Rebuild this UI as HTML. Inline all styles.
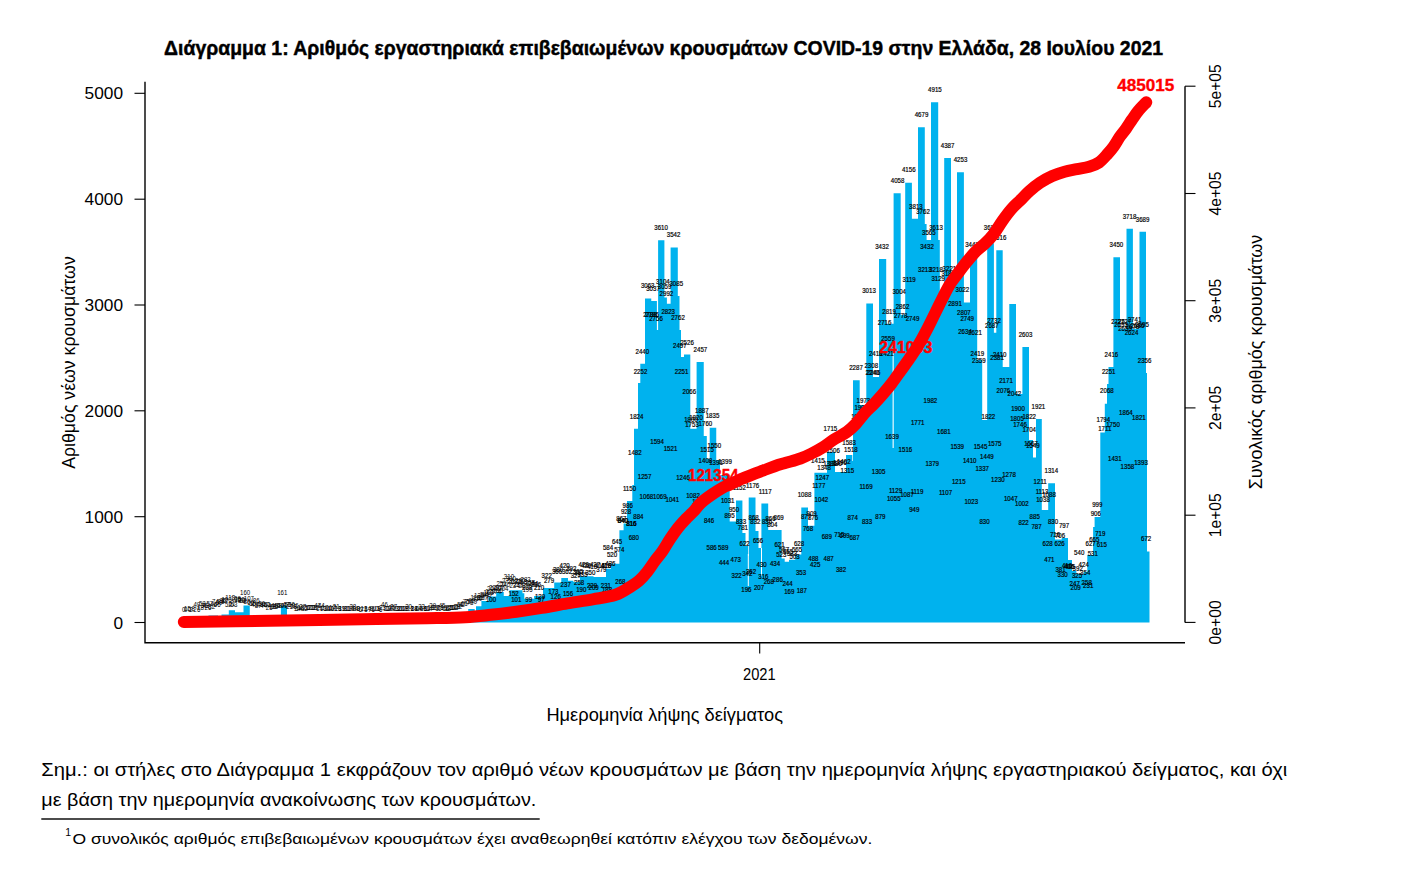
<!DOCTYPE html>
<html><head><meta charset="utf-8"><style>
html,body{margin:0;padding:0;background:#fff;width:1414px;height:896px;overflow:hidden}
svg{position:absolute;left:0;top:0}
</style></head><body>
<svg width="1414" height="896" viewBox="0 0 1414 896" font-family='"Liberation Sans", sans-serif'>
<rect width="1414" height="896" fill="#fff"/>
<text x="164.1" y="55.3" font-size="20.1" font-weight="bold" stroke="#000" stroke-width="0.45" textLength="999" lengthAdjust="spacingAndGlyphs">Διάγραμμα 1: Αριθμός εργαστηριακά επιβεβαιωμένων κρουσμάτων COVID-19 στην Ελλάδα, 28 Ιουλίου 2021</text>
<path d="M180.00,622.50 L208.50,622.50 L208.50,615.60 L218.00,615.60 L218.00,622.50 L221.50,622.50 L221.50,614.50 L228.80,614.50 L228.80,610.30 L235.00,610.30 L235.00,612.20 L243.50,612.20 L243.50,605.50 L249.75,605.50 L249.75,622.50 L280.90,622.50 L280.90,605.50 L287.00,605.50 L287.00,622.50 L468.20,622.50 L468.20,609.00 L474.70,609.00 L474.70,611.00 L476.00,611.00 L476.00,606.25 L481.40,606.25 L481.40,600.90 L488.60,600.90 L488.60,596.40 L496.20,596.40 L496.20,592.00 L503.75,592.00 L503.75,596.00 L509.50,596.00 L509.50,590.20 L522.50,590.20 L522.50,593.30 L524.30,593.30 L524.30,598.70 L534.10,598.70 L534.10,596.00 L543.00,596.00 L543.00,588.00 L554.20,588.00 L554.20,582.60 L561.30,582.60 L561.30,578.10 L568.00,578.10 L568.00,580.80 L573.40,580.80 L573.40,582.00 L580.00,582.00 L580.00,576.30 L593.50,576.30 L593.50,577.00 L606.00,577.00 L606.00,568.80 L611.00,568.80 L611.00,563.80 L619.40,563.80 L619.40,530.20 L623.60,530.20 L623.60,523.50 L627.00,523.50 L627.00,501.00 L632.30,501.00 L632.30,485.00 L634.00,485.00 L634.00,428.75 L638.00,428.75 L638.00,383.00 L640.30,383.00 L640.30,363.75 L645.00,363.75 L645.00,298.40 L651.25,298.40 L651.25,301.00 L656.90,301.00 L656.90,330.00 L658.10,330.00 L658.10,240.30 L664.40,240.30 L664.40,297.50 L666.90,297.50 L666.90,303.75 L670.60,303.75 L670.60,247.50 L677.80,247.50 L677.80,296.00 L679.50,296.00 L679.50,330.00 L681.00,330.00 L681.00,357.00 L684.00,357.00 L684.00,354.40 L690.30,354.40 L690.30,428.75 L696.60,428.75 L696.60,362.00 L703.75,362.00 L703.75,436.00 L706.80,436.00 L706.80,459.00 L709.70,459.00 L709.70,427.80 L716.25,427.80 L716.25,460.00 L720.00,460.00 L720.00,475.00 L729.70,475.00 L729.70,521.60 L736.00,521.60 L736.00,500.40 L742.40,500.40 L742.40,533.00 L745.50,533.00 L745.50,546.00 L748.00,546.00 L748.00,556.00 L748.70,556.00 L748.70,497.60 L755.50,497.60 L755.50,531.00 L758.50,531.00 L758.50,548.00 L761.40,548.00 L761.40,503.60 L768.20,503.60 L768.20,530.00 L781.60,530.00 L781.60,558.60 L784.70,558.60 L784.70,561.80 L789.00,561.80 L789.00,559.70 L795.30,559.70 L795.30,554.40 L801.30,554.40 L801.30,507.40 L808.00,507.40 L808.00,525.80 L814.40,525.80 L814.40,472.80 L827.00,472.80 L827.00,452.00 L835.00,452.00 L835.00,472.00 L846.00,472.00 L846.00,455.00 L852.30,455.00 L852.30,461.00 L853.00,461.00 L853.00,380.30 L859.70,380.30 L859.70,405.00 L866.30,405.00 L866.30,303.60 L873.00,303.60 L873.00,377.00 L879.00,377.00 L879.00,259.00 L886.20,259.00 L886.20,323.70 L893.60,323.70 L893.60,193.20 L900.70,193.20 L900.70,314.70 L905.20,314.70 L905.20,182.70 L911.90,182.70 L911.90,218.80 L918.00,218.80 L918.00,127.30 L924.80,127.30 L924.80,224.00 L926.60,224.00 L926.60,240.00 L931.00,240.00 L931.00,102.30 L938.20,102.30 L938.20,240.00 L939.80,240.00 L939.80,295.00 L944.20,295.00 L944.20,158.10 L951.00,158.10 L951.00,280.00 L957.00,280.00 L957.00,172.20 L963.90,172.20 L963.90,302.50 L970.00,302.50 L970.00,255.00 L977.20,255.00 L977.20,360.00 L982.20,360.00 L982.20,420.00 L987.20,420.00 L987.20,243.20 L993.90,243.20 L993.90,332.70 L996.30,332.70 L996.30,250.30 L1002.70,250.30 L1002.70,367.00 L1009.30,367.00 L1009.30,304.00 L1016.00,304.00 L1016.00,394.00 L1022.40,394.00 L1022.40,347.00 L1029.00,347.00 L1029.00,440.00 L1033.00,440.00 L1033.00,457.60 L1036.00,457.60 L1036.00,419.00 L1041.80,419.00 L1041.80,510.00 L1048.20,510.00 L1048.20,483.30 L1055.00,483.30 L1055.00,539.40 L1061.70,539.40 L1061.70,538.00 L1068.00,538.00 L1068.00,560.00 L1072.00,560.00 L1072.00,571.00 L1076.40,571.00 L1076.40,574.00 L1083.70,574.00 L1083.70,572.00 L1087.30,572.00 L1087.30,555.00 L1093.10,555.00 L1093.10,527.00 L1094.60,527.00 L1094.60,517.00 L1100.30,517.00 L1100.30,432.40 L1104.80,432.40 L1104.80,403.70 L1107.00,403.70 L1107.00,384.00 L1108.50,384.00 L1108.50,367.00 L1113.40,367.00 L1113.40,257.30 L1120.00,257.30 L1120.00,328.70 L1126.50,328.70 L1126.50,228.80 L1132.90,228.80 L1132.90,328.70 L1139.50,328.70 L1139.50,231.80 L1146.00,231.80 L1146.00,373.00 L1147.00,373.00 L1147.00,551.40 L1149.50,551.40 L1149.50,622.50 Z" fill="#00B2EE"/>
<rect x="892.6" y="348" width="1.1" height="100" fill="#fff"/><rect x="747.8" y="554" width="1" height="32" fill="#fff"/><rect x="761" y="548" width="1" height="28" fill="#fff"/>
<g font-size="7" fill="#000" stroke="#000" stroke-width="0.2" text-anchor="middle" transform="scale(0.875,1)"><text x="755.54" y="230.22">3610</text><text x="769.83" y="237.41">3542</text><text x="740.23" y="288.11">3063</text><text x="746.29" y="290.86">3037</text><text x="757.60" y="283.77">3104</text><text x="759.54" y="288.54">3059</text><text x="772.86" y="285.78">3085</text><text x="761.60" y="295.63">2992</text><text x="742.86" y="317.22">2788</text><text x="745.14" y="317.43">2786</text><text x="749.71" y="320.60">2756</text><text x="763.66" y="313.51">2823</text><text x="774.86" y="319.97">2762</text><text x="785.14" y="344.95">2526</text><text x="776.91" y="348.02">2497</text><text x="800.46" y="352.25">2457</text><text x="734.06" y="354.05">2440</text><text x="732.00" y="373.95">2252</text><text x="778.97" y="374.05">2251</text><text x="787.77" y="393.63">2066</text><text x="802.06" y="412.58">1887</text><text x="814.29" y="418.08">1835</text><text x="789.71" y="421.79">1800</text><text x="795.43" y="419.67">1820</text><text x="790.86" y="426.76">1753</text><text x="806.17" y="426.02">1760</text><text x="727.54" y="419.25">1824</text><text x="750.97" y="443.59">1594</text><text x="766.29" y="451.32">1521</text><text x="725.49" y="455.45">1482</text><text x="808.00" y="451.95">1515</text><text x="816.34" y="448.25">1550</text><text x="806.17" y="463.28">1408</text><text x="818.29" y="465.08">1391</text><text x="828.57" y="464.23">1399</text><text x="736.69" y="479.26">1257</text><text x="780.57" y="480.42">1246</text><text x="719.43" y="490.58">1150</text><text x="738.74" y="499.26">1068</text><text x="754.06" y="499.16">1069</text><text x="768.34" y="502.12">1041</text><text x="792.00" y="497.78">1082</text><text x="798.86" y="504.34">1020</text><text x="717.37" y="507.94">986</text><text x="715.43" y="514.08">928</text><text x="729.60" y="518.74">884</text><text x="710.17" y="520.54">867</text><text x="712.23" y="523.39">840</text><text x="721.43" y="525.93">816</text><text x="810.29" y="522.76">846</text><text x="844.91" y="490.37">1152</text><text x="860.23" y="487.83">1176</text><text x="874.51" y="494.08">1117</text><text x="831.66" y="503.18">1031</text><text x="838.86" y="511.75">950</text><text x="833.71" y="517.57">895</text><text x="846.86" y="524.14">833</text><text x="849.03" y="529.64">781</text><text x="861.26" y="520.43">868</text><text x="863.31" y="524.24">832</text><text x="880.57" y="520.64">866</text><text x="889.83" y="520.33">869</text><text x="876.57" y="523.82">836</text><text x="882.63" y="527.20">804</text><text x="850.97" y="546.47">622</text><text x="866.29" y="542.87">656</text><text x="813.26" y="550.28">586</text><text x="826.51" y="549.96">589</text><text x="827.43" y="565.31">444</text><text x="840.80" y="562.24">473</text><text x="841.83" y="578.22">322</text><text x="854.06" y="576.10">342</text><text x="858.29" y="573.99">362</text><text x="853.03" y="591.56">196</text><text x="867.43" y="590.39">207</text><text x="870.40" y="566.79">430</text><text x="885.71" y="566.37">434</text><text x="872.46" y="578.85">316</text><text x="888.80" y="582.03">286</text><text x="878.57" y="583.93">268</text><text x="900.00" y="586.48">244</text><text x="902.06" y="594.41">169</text><text x="916.34" y="592.51">187</text><text x="915.43" y="574.94">353</text><text x="890.86" y="546.57">621</text><text x="896.00" y="552.29">567</text><text x="900.57" y="553.56">555</text><text x="905.14" y="555.89">533</text><text x="910.86" y="552.50">565</text><text x="892.86" y="556.95">523</text><text x="908.11" y="559.06">503</text><text x="913.14" y="545.83">628</text><text x="919.43" y="497.15">1088</text><text x="927.54" y="516.09">909</text><text x="921.14" y="519.48">877</text><text x="929.14" y="519.58">876</text><text x="923.43" y="531.01">768</text><text x="929.60" y="560.65">488</text><text x="931.66" y="567.32">425</text><text x="949.03" y="430.78">1715</text><text x="980.57" y="419.46">1822</text><text x="1019.43" y="438.83">1639</text><text x="1034.74" y="451.85">1516</text><text x="970.40" y="444.76">1583</text><text x="972.46" y="451.63">1518</text><text x="952.00" y="452.90">1506</text><text x="934.74" y="462.54">1415</text><text x="964.29" y="463.91">1402</text><text x="941.83" y="469.63">1348</text><text x="948.57" y="465.61">1386</text><text x="954.29" y="466.24">1380</text><text x="960.00" y="464.55">1396</text><text x="968.34" y="473.12">1315</text><text x="1004.11" y="474.18">1305</text><text x="939.77" y="480.32">1247</text><text x="935.71" y="487.73">1177</text><text x="989.71" y="488.57">1169</text><text x="938.74" y="502.01">1042</text><text x="1023.43" y="492.81">1129</text><text x="1021.43" y="500.64">1055</text><text x="1036.57" y="497.25">1087</text><text x="1048.00" y="493.87">1119</text><text x="1044.91" y="511.86">949</text><text x="974.51" y="519.80">874</text><text x="990.86" y="524.14">833</text><text x="1006.17" y="519.27">879</text><text x="944.91" y="539.38">689</text><text x="959.20" y="536.62">715</text><text x="965.26" y="538.32">699</text><text x="976.57" y="539.59">687</text><text x="946.97" y="560.76">487</text><text x="961.14" y="571.87">382</text><text x="1068.46" y="92.10">4915</text><text x="1053.14" y="117.07">4679</text><text x="1082.97" y="147.98">4387</text><text x="1097.71" y="162.16">4253</text><text x="1038.57" y="172.43">4156</text><text x="1025.83" y="182.80">4058</text><text x="1046.74" y="208.73">3813</text><text x="1054.86" y="214.13">3762</text><text x="1069.71" y="229.90">3613</text><text x="1061.49" y="234.98">3565</text><text x="1008.00" y="249.06">3432</text><text x="1059.43" y="249.06">3432</text><text x="1056.91" y="272.24">3213</text><text x="1069.71" y="271.71">3218</text><text x="1085.03" y="271.39">3221</text><text x="1083.77" y="275.73">3180</text><text x="1039.09" y="282.19">3119</text><text x="1072.23" y="281.13">3129</text><text x="1110.86" y="247.47">3447</text><text x="993.14" y="293.40">3013</text><text x="1027.66" y="294.36">3004</text><text x="1031.43" y="309.39">2862</text><text x="1016.11" y="313.94">2819</text><text x="1029.37" y="318.28">2778</text><text x="1042.86" y="321.35">2749</text><text x="1010.97" y="324.84">2716</text><text x="1014.86" y="341.46">2559</text><text x="1000.80" y="356.38">2418</text><text x="1013.60" y="356.06">2421</text><text x="978.29" y="370.24">2287</text><text x="995.71" y="368.02">2308</text><text x="998.29" y="374.58">2246</text><text x="997.03" y="375.22">2240</text><text x="1099.77" y="292.45">3022</text><text x="1091.43" y="306.32">2891</text><text x="1101.60" y="315.21">2807</text><text x="1105.37" y="321.35">2749</text><text x="1102.86" y="333.52">2634</text><text x="1114.29" y="334.89">2621</text><text x="1116.91" y="356.27">2419</text><text x="1118.63" y="362.62">2359</text><text x="1063.31" y="402.53">1982</text><text x="986.74" y="403.48">1973</text><text x="984.23" y="410.46">1907</text><text x="1048.80" y="424.86">1771</text><text x="1078.63" y="434.38">1681</text><text x="1093.94" y="449.41">1539</text><text x="1120.57" y="448.78">1545</text><text x="1136.80" y="445.60">1575</text><text x="1129.60" y="419.46">1822</text><text x="1136.00" y="323.15">2732</text><text x="1133.49" y="327.91">2687</text><text x="1132.11" y="229.58">3616</text><text x="1142.29" y="240.17">3516</text><text x="1065.37" y="466.35">1379</text><text x="1108.23" y="463.07">1410</text><text x="1127.89" y="458.94">1449</text><text x="1122.51" y="470.79">1337</text><text x="1095.71" y="483.70">1215</text><text x="1080.57" y="495.14">1107</text><text x="1110.00" y="504.03">1023</text><text x="1125.14" y="524.45">830</text><text x="1172.00" y="336.80">2603</text><text x="1142.51" y="357.23">2410</text><text x="1139.54" y="360.29">2381</text><text x="1149.71" y="382.52">2171</text><text x="1146.74" y="392.58">2076</text><text x="1159.31" y="396.17">2042</text><text x="1186.74" y="408.98">1921</text><text x="1163.43" y="411.20">1900</text><text x="1162.29" y="421.26">1805</text><text x="1176.23" y="419.46">1822</text><text x="1165.71" y="427.50">1746</text><text x="1176.23" y="431.95">1704</text><text x="1178.29" y="446.45">1567</text><text x="1180.46" y="448.35">1549</text><text x="1153.14" y="477.04">1278</text><text x="1140.46" y="482.12">1230</text><text x="1201.49" y="473.23">1314</text><text x="1188.80" y="484.13">1211</text><text x="1190.86" y="494.50">1113</text><text x="1192.00" y="502.44">1038</text><text x="1198.86" y="497.15">1088</text><text x="1155.14" y="501.49">1047</text><text x="1167.77" y="506.25">1002</text><text x="1182.51" y="518.63">885</text><text x="1169.83" y="525.30">822</text><text x="1184.57" y="529.00">787</text><text x="1203.43" y="524.45">830</text><text x="1205.71" y="536.52">716</text><text x="1211.43" y="537.58">706</text><text x="1197.26" y="545.83">628</text><text x="1210.97" y="546.04">626</text><text x="1199.31" y="562.45">471</text><text x="1216.00" y="527.95">797</text><text x="1267.09" y="374.05">2251</text><text x="1265.03" y="393.42">2068</text><text x="1286.74" y="415.01">1864</text><text x="1301.60" y="419.57">1821</text><text x="1260.91" y="422.42">1794</text><text x="1272.00" y="427.08">1750</text><text x="1262.63" y="431.21">1711</text><text x="1274.06" y="460.84">1431</text><text x="1288.46" y="468.57">1358</text><text x="1304.00" y="464.86">1393</text><text x="1254.06" y="506.57">999</text><text x="1252.34" y="516.41">906</text><text x="1257.49" y="536.20">719</text><text x="1250.63" y="541.92">665</text><text x="1246.40" y="545.94">627</text><text x="1259.20" y="547.21">615</text><text x="1233.37" y="555.15">540</text><text x="1248.91" y="556.10">531</text><text x="1219.43" y="568.27">416</text><text x="1221.71" y="569.33">406</text><text x="1212.00" y="571.97">381</text><text x="1214.40" y="577.37">330</text><text x="1222.97" y="569.43">405</text><text x="1231.66" y="570.81">392</text><text x="1238.51" y="567.42">424</text><text x="1240.23" y="574.83">354</text><text x="1230.86" y="577.90">325</text><text x="1228.23" y="586.16">247</text><text x="1229.26" y="590.18">209</text><text x="1241.94" y="584.99">258</text><text x="1243.66" y="587.85">231</text><text x="1309.83" y="541.18">672</text><text x="1270.17" y="356.59">2416</text><text x="1275.89" y="247.15">3450</text><text x="1290.86" y="218.79">3718</text><text x="1305.83" y="221.86">3689</text><text x="1285.14" y="323.67">2727</text><text x="1296.57" y="322.19">2741</text><text x="1277.71" y="323.89">2725</text><text x="1281.14" y="327.27">2693</text><text x="1285.71" y="331.29">2655</text><text x="1294.29" y="328.86">2678</text><text x="1300.00" y="328.01">2686</text><text x="1305.14" y="327.06">2695</text><text x="1293.14" y="334.58">2624</text><text x="1308.11" y="362.94">2356</text><text x="721.83" y="525.93">816</text><text x="711.54" y="523.39">840</text><text x="724.34" y="540.33">680</text><text x="705.14" y="544.03">645</text><text x="694.86" y="550.49">584</text><text x="699.43" y="557.26">520</text><text x="707.77" y="551.55">574</text><text x="697.60" y="566.15">436</text><text x="692.57" y="568.06">418</text><text x="666.97" y="567.00">428</text><text x="669.71" y="567.85">420</text><text x="676.57" y="568.91">410</text><text x="680.00" y="567.11">427</text><text x="685.71" y="568.38">415</text><text x="692.57" y="568.27">416</text><text x="687.31" y="572.19">379</text><text x="674.63" y="575.26">350</text><text x="665.71" y="576.84">335</text><text x="645.26" y="567.85">420</text><text x="652.91" y="570.81">392</text><text x="660.57" y="573.67">365</text><text x="624.80" y="578.22">322</text><text x="561.14" y="601.72">100</text><text x="586.97" y="596.21">152</text><text x="590.06" y="601.61">101</text><text x="604.29" y="601.82">99</text><text x="637.71" y="572.08">380</text><text x="636.57" y="573.56">366</text><text x="648.00" y="573.99">362</text><text x="661.83" y="574.52">357</text><text x="658.06" y="577.69">327</text><text x="627.43" y="582.77">279</text><text x="661.83" y="584.99">258</text><text x="646.51" y="587.22">237</text><text x="692.46" y="587.85">231</text><text x="676.57" y="588.06">229</text><text x="678.40" y="590.18">209</text><text x="664.34" y="592.19">190</text><text x="693.71" y="592.40">188</text><text x="632.46" y="593.99">173</text><text x="649.14" y="595.79">156</text><text x="635.09" y="598.96">126</text><text x="617.14" y="598.65">129</text><text x="618.51" y="602.03">97</text><text x="709.03" y="583.93">268</text><text x="605.71" y="585.31">255</text><text x="609.14" y="586.48">244</text><text x="612.57" y="587.32">236</text><text x="616.00" y="590.07">210</text><text x="602.29" y="590.29">208</text></g>
<g font-size="7" fill="#000" text-anchor="middle" transform="scale(0.875,1)"><text x="210.06" y="612.30">0</text><text x="212.18" y="612.30">0</text><text x="214.30" y="610.71">15</text><text x="216.43" y="612.30">0</text><text x="218.55" y="612.09">2</text><text x="220.67" y="611.45">8</text><text x="222.80" y="612.09">2</text><text x="224.92" y="607.11">49</text><text x="227.04" y="611.66">6</text><text x="229.17" y="610.39">18</text><text x="231.29" y="606.16">58</text><text x="233.41" y="608.49">36</text><text x="235.54" y="607.75">43</text><text x="237.66" y="609.55">26</text><text x="239.79" y="606.27">57</text><text x="241.91" y="608.91">32</text><text x="244.03" y="607.43">46</text><text x="246.16" y="604.47">74</text><text x="248.28" y="607.43">46</text><text x="250.40" y="605.00">69</text><text x="252.53" y="603.73">81</text><text x="254.65" y="603.20">86</text><text x="256.77" y="603.09">87</text><text x="258.90" y="601.72">100</text><text x="261.02" y="606.80">52</text><text x="263.14" y="600.34">113</text><text x="265.27" y="605.84">61</text><text x="267.39" y="606.69">53</text><text x="269.51" y="600.76">109</text><text x="271.64" y="602.25">95</text><text x="273.76" y="601.72">100</text><text x="275.88" y="602.88">89</text><text x="278.01" y="602.56">92</text><text x="280.13" y="595.37">160</text><text x="282.25" y="603.83">80</text><text x="284.38" y="600.98">107</text><text x="286.50" y="605.31">66</text><text x="288.62" y="606.48">55</text><text x="290.75" y="607.22">48</text><text x="292.87" y="603.20">86</text><text x="294.99" y="608.38">37</text><text x="297.12" y="607.22">48</text><text x="299.24" y="606.37">56</text><text x="301.36" y="607.64">44</text><text x="303.49" y="607.33">47</text><text x="305.61" y="606.90">51</text><text x="307.73" y="609.65">25</text><text x="309.86" y="607.64">44</text><text x="311.98" y="609.34">28</text><text x="314.11" y="608.60">35</text><text x="316.23" y="608.07">40</text><text x="318.35" y="608.28">38</text><text x="320.48" y="608.07">40</text><text x="322.60" y="595.26">161</text><text x="324.72" y="607.96">41</text><text x="326.85" y="607.33">47</text><text x="328.97" y="606.69">53</text><text x="331.09" y="609.44">27</text><text x="333.22" y="607.01">50</text><text x="335.34" y="609.34">28</text><text x="337.46" y="608.49">36</text><text x="339.59" y="610.82">14</text><text x="341.71" y="610.82">14</text><text x="343.83" y="610.39">18</text><text x="345.96" y="609.44">27</text><text x="348.08" y="611.03">12</text><text x="350.20" y="609.55">26</text><text x="352.33" y="610.50">17</text><text x="354.45" y="609.97">22</text><text x="356.57" y="609.87">23</text><text x="358.70" y="610.39">18</text><text x="360.82" y="609.97">22</text><text x="362.94" y="607.96">41</text><text x="365.07" y="610.82">14</text><text x="367.19" y="607.64">44</text><text x="369.31" y="610.92">13</text><text x="371.44" y="610.50">17</text><text x="373.56" y="610.82">14</text><text x="375.68" y="611.24">10</text><text x="377.81" y="611.24">10</text><text x="379.93" y="610.50">17</text><text x="382.05" y="611.03">12</text><text x="384.18" y="609.02">31</text><text x="386.30" y="610.92">13</text><text x="388.43" y="611.45">8</text><text x="390.55" y="611.14">11</text><text x="392.67" y="611.35">9</text><text x="394.80" y="611.45">8</text><text x="396.92" y="611.14">11</text><text x="399.04" y="611.03">12</text><text x="401.17" y="610.82">14</text><text x="403.29" y="609.34">28</text><text x="405.41" y="610.82">14</text><text x="407.54" y="611.24">10</text><text x="409.66" y="611.45">8</text><text x="411.78" y="611.66">6</text><text x="413.91" y="611.56">7</text><text x="416.03" y="611.03">12</text><text x="418.15" y="611.77">5</text><text x="420.28" y="610.82">14</text><text x="422.40" y="611.56">7</text><text x="424.52" y="611.45">8</text><text x="426.65" y="611.66">6</text><text x="428.77" y="611.24">10</text><text x="430.89" y="611.14">11</text><text x="433.02" y="611.45">8</text><text x="435.14" y="611.66">6</text><text x="437.26" y="609.87">23</text><text x="439.39" y="607.43">46</text><text x="441.51" y="611.03">12</text><text x="443.63" y="610.92">13</text><text x="445.76" y="611.24">10</text><text x="447.88" y="609.65">25</text><text x="450.00" y="609.44">27</text><text x="452.13" y="610.92">13</text><text x="454.25" y="611.03">12</text><text x="456.37" y="611.24">10</text><text x="458.50" y="611.24">10</text><text x="460.62" y="611.03">12</text><text x="462.75" y="611.14">11</text><text x="464.87" y="611.45">8</text><text x="466.99" y="609.12">30</text><text x="469.12" y="611.03">12</text><text x="471.24" y="611.45">8</text><text x="473.36" y="610.82">14</text><text x="475.49" y="611.45">8</text><text x="477.61" y="610.82">14</text><text x="479.73" y="610.82">14</text><text x="481.86" y="608.81">33</text><text x="483.98" y="610.61">16</text><text x="486.10" y="611.45">8</text><text x="488.23" y="611.14">11</text><text x="490.35" y="610.82">14</text><text x="492.47" y="610.39">18</text><text x="494.60" y="608.17">39</text><text x="496.72" y="610.29">19</text><text x="498.84" y="610.50">17</text><text x="500.97" y="611.14">11</text><text x="503.09" y="610.39">18</text><text x="505.21" y="607.54">45</text><text x="507.34" y="610.29">19</text><text x="509.46" y="610.61">16</text><text x="511.58" y="610.92">13</text><text x="513.71" y="609.65">25</text><text x="515.83" y="609.55">26</text><text x="517.95" y="610.08">21</text><text x="520.08" y="609.87">23</text><text x="522.20" y="609.23">29</text><text x="524.32" y="608.91">32</text><text x="526.45" y="606.90">51</text><text x="528.57" y="607.33">47</text><text x="530.69" y="605.84">61</text><text x="532.82" y="604.36">75</text><text x="534.94" y="603.94">79</text><text x="537.07" y="604.57">73</text><text x="539.19" y="602.56">92</text><text x="541.31" y="603.94">79</text><text x="543.44" y="600.02">116</text><text x="545.56" y="600.66">110</text><text x="547.68" y="598.01">135</text><text x="549.81" y="599.92">117</text><text x="551.93" y="599.92">117</text><text x="554.05" y="597.38">141</text><text x="556.18" y="596.53">149</text><text x="558.30" y="594.52">168</text><text x="560.42" y="593.57">177</text><text x="562.55" y="591.13">200</text><text x="564.67" y="590.18">209</text><text x="566.79" y="593.88">174</text><text x="568.92" y="592.72">185</text><text x="571.04" y="590.39">207</text><text x="573.16" y="585.73">251</text><text x="575.29" y="590.71">204</text><text x="577.41" y="586.90">240</text><text x="579.53" y="583.41">273</text><text x="581.66" y="579.49">310</text><text x="583.78" y="580.55">300</text><text x="585.90" y="583.83">269</text><text x="588.03" y="587.53">234</text><text x="590.15" y="583.51">272</text><text x="592.27" y="587.00">239</text><text x="594.40" y="582.66">280</text><text x="596.52" y="583.93">268</text><text x="598.64" y="588.27">227</text><text x="600.77" y="582.35">283</text><text x="602.89" y="591.66">195</text></g>
<text x="688" y="481" font-size="16.5" font-weight="bold" fill="#FF0000" stroke="#FF0000" stroke-width="0.4" textLength="50.5" lengthAdjust="spacingAndGlyphs">121354</text>
<text x="879.1" y="353" font-size="16.5" font-weight="bold" fill="#FF0000" stroke="#FF0000" stroke-width="0.4" textLength="53.4" lengthAdjust="spacingAndGlyphs">241093</text>
<path d="M183.80,622.00 C198.17,621.80 242.63,621.23 270.00,620.80 C297.37,620.37 321.83,619.83 348.00,619.40 C374.17,618.97 407.42,618.57 427.00,618.20 C446.58,617.83 454.85,617.77 465.50,617.20 C476.15,616.63 482.42,615.71 490.90,614.80 C499.38,613.89 507.92,612.90 516.40,611.75 C524.88,610.60 533.32,609.29 541.80,607.90 C550.28,606.51 558.81,604.83 567.30,603.40 C575.79,601.97 584.70,600.73 592.75,599.30 C600.80,597.87 609.18,596.97 615.60,594.80 C622.02,592.62 627.35,588.58 631.25,586.25 C635.15,583.92 636.39,583.14 639.00,580.80 C641.61,578.46 644.28,575.46 646.90,572.20 C649.52,568.94 652.10,564.77 654.70,561.25 C657.30,557.73 659.90,554.88 662.50,551.10 C665.10,547.33 667.70,542.50 670.30,538.60 C672.90,534.70 675.50,530.97 678.10,527.70 C680.70,524.43 683.29,521.74 685.90,519.00 C688.51,516.26 691.17,514.00 693.75,511.25 C696.33,508.50 698.31,505.32 701.40,502.50 C704.49,499.68 708.62,496.83 712.30,494.30 C715.98,491.77 720.55,488.93 723.50,487.30 C726.45,485.67 727.05,485.87 730.00,484.50 C732.95,483.13 737.48,480.75 741.20,479.10 C744.92,477.45 748.58,476.05 752.30,474.60 C756.02,473.15 759.77,471.80 763.50,470.40 C767.23,469.00 770.97,467.47 774.70,466.20 C778.43,464.93 781.62,464.08 785.90,462.80 C790.18,461.52 796.12,460.05 800.40,458.50 C804.68,456.95 807.87,455.37 811.60,453.50 C815.33,451.63 819.08,449.63 822.80,447.30 C826.52,444.97 829.90,442.05 833.90,439.50 C837.90,436.95 843.17,434.58 846.80,432.00 C850.43,429.42 852.73,427.13 855.70,424.00 C858.67,420.87 861.62,416.48 864.60,413.20 C867.58,409.92 870.62,407.42 873.60,404.30 C876.58,401.18 879.53,397.93 882.50,394.50 C885.47,391.07 888.42,387.62 891.40,383.75 C894.38,379.88 897.42,375.42 900.40,371.25 C903.38,367.08 906.33,363.06 909.30,358.75 C912.27,354.44 915.23,350.31 918.20,345.40 C921.17,340.49 924.13,334.97 927.10,329.30 C930.07,323.63 932.37,318.63 936.00,311.40 C939.63,304.17 945.25,292.23 948.90,285.90 C952.55,279.57 954.92,277.42 957.90,273.40 C960.88,269.38 963.83,265.47 966.80,261.80 C969.77,258.13 972.73,254.38 975.70,251.40 C978.67,248.42 981.62,246.78 984.60,243.90 C987.58,241.02 990.62,237.97 993.60,234.10 C996.58,230.23 999.53,224.87 1002.50,220.70 C1005.47,216.53 1008.42,212.52 1011.40,209.10 C1014.38,205.68 1017.42,203.17 1020.40,200.20 C1023.38,197.22 1026.03,194.16 1029.30,191.25 C1032.57,188.34 1036.17,185.29 1040.00,182.75 C1043.83,180.21 1048.20,177.84 1052.30,176.00 C1056.40,174.16 1060.50,172.83 1064.60,171.70 C1068.70,170.57 1072.82,170.02 1076.90,169.20 C1080.98,168.38 1085.42,167.92 1089.10,166.80 C1092.78,165.68 1095.92,164.65 1099.00,162.50 C1102.08,160.35 1105.15,156.57 1107.60,153.90 C1110.05,151.23 1111.65,149.37 1113.70,146.50 C1115.75,143.63 1117.85,139.67 1119.90,136.70 C1121.95,133.73 1123.97,131.57 1126.00,128.70 C1128.03,125.83 1130.05,122.47 1132.10,119.50 C1134.15,116.53 1135.93,113.77 1138.30,110.90 C1140.67,108.03 1144.97,103.73 1146.30,102.30" fill="none" stroke="#FF0000" stroke-width="12" stroke-linecap="round" stroke-linejoin="round"/>
<g stroke="#000" stroke-width="1.4" fill="none">
<path d="M145,81.7 L145,642.8 L1185,642.8"/>
<path d="M1185,86.2 L1185,622.4"/>
</g>
<g stroke="#000" stroke-width="1.1"><line x1="134.5" y1="622.5" x2="145" y2="622.5"/><line x1="134.5" y1="516.7" x2="145" y2="516.7"/><line x1="134.5" y1="410.8" x2="145" y2="410.8"/><line x1="134.5" y1="305" x2="145" y2="305"/><line x1="134.5" y1="199.2" x2="145" y2="199.2"/><line x1="134.5" y1="93.3" x2="145" y2="93.3"/><line x1="1185" y1="622.4" x2="1195.5" y2="622.4"/><line x1="1185" y1="515.2" x2="1195.5" y2="515.2"/><line x1="1185" y1="407.9" x2="1195.5" y2="407.9"/><line x1="1185" y1="300.7" x2="1195.5" y2="300.7"/><line x1="1185" y1="193.5" x2="1195.5" y2="193.5"/><line x1="1185" y1="86.2" x2="1195.5" y2="86.2"/><line x1="759.7" y1="643" x2="759.7" y2="653.6"/></g>
<g font-size="17.3" fill="#000"><text x="123" y="628.6" text-anchor="end">0</text><text x="123" y="522.8000000000001" text-anchor="end">1000</text><text x="123" y="416.90000000000003" text-anchor="end">2000</text><text x="123" y="311.1" text-anchor="end">3000</text><text x="123" y="205.29999999999998" text-anchor="end">4000</text><text x="123" y="99.39999999999999" text-anchor="end">5000</text>
<text x="743" y="680.3" textLength="32.7" lengthAdjust="spacingAndGlyphs">2021</text>
<text transform="translate(1221.3,622.4) rotate(-90)" text-anchor="middle" textLength="44" lengthAdjust="spacingAndGlyphs">0e+00</text><text transform="translate(1221.3,515.2) rotate(-90)" text-anchor="middle" textLength="44" lengthAdjust="spacingAndGlyphs">1e+05</text><text transform="translate(1221.3,407.9) rotate(-90)" text-anchor="middle" textLength="44" lengthAdjust="spacingAndGlyphs">2e+05</text><text transform="translate(1221.3,300.7) rotate(-90)" text-anchor="middle" textLength="44" lengthAdjust="spacingAndGlyphs">3e+05</text><text transform="translate(1221.3,193.5) rotate(-90)" text-anchor="middle" textLength="44" lengthAdjust="spacingAndGlyphs">4e+05</text><text transform="translate(1221.3,86.2) rotate(-90)" text-anchor="middle" textLength="44" lengthAdjust="spacingAndGlyphs">5e+05</text>
</g>
<text transform="translate(78,362.5) rotate(-90)" text-anchor="middle" font-size="17.7" dy="-3">Αριθμός νέων κρουσμάτων</text>
<text transform="translate(1265,362) rotate(-90)" text-anchor="middle" font-size="18" dy="-3">Συνολικός αριθμός κρουσμάτων</text>
<text x="664.7" y="721.4" text-anchor="middle" font-size="17.7" textLength="236.5" lengthAdjust="spacingAndGlyphs">Ημερομηνία λήψης δείγματος</text>
<text x="1117.3" y="91.2" font-size="17.2" font-weight="bold" fill="#FF0000" stroke="#FF0000" stroke-width="0.35" textLength="57" lengthAdjust="spacingAndGlyphs">485015</text>
<text x="41.3" y="775.9" font-size="18.4" textLength="1246" lengthAdjust="spacingAndGlyphs">Σημ.:  οι στήλες στο Διάγραμμα 1 εκφράζουν τον αριθμό νέων κρουσμάτων με βάση την ημερομηνία λήψης εργαστηριακού δείγματος, και όχι</text>
<text x="41.3" y="805.6" font-size="18.4" textLength="495" lengthAdjust="spacingAndGlyphs">με βάση την ημερομηνία ανακοίνωσης των κρουσμάτων.</text>
<line x1="41.3" y1="819" x2="539.7" y2="819" stroke="#111" stroke-width="1.3"/>
<text x="65.2" y="835.8" font-size="10.5">1</text>
<text x="72.4" y="843.8" font-size="14.6" textLength="800" lengthAdjust="spacingAndGlyphs">Ο συνολικός αριθμός επιβεβαιωμένων κρουσμάτων έχει αναθεωρηθεί κατόπιν ελέγχου των δεδομένων.</text>
</svg>
</body></html>
